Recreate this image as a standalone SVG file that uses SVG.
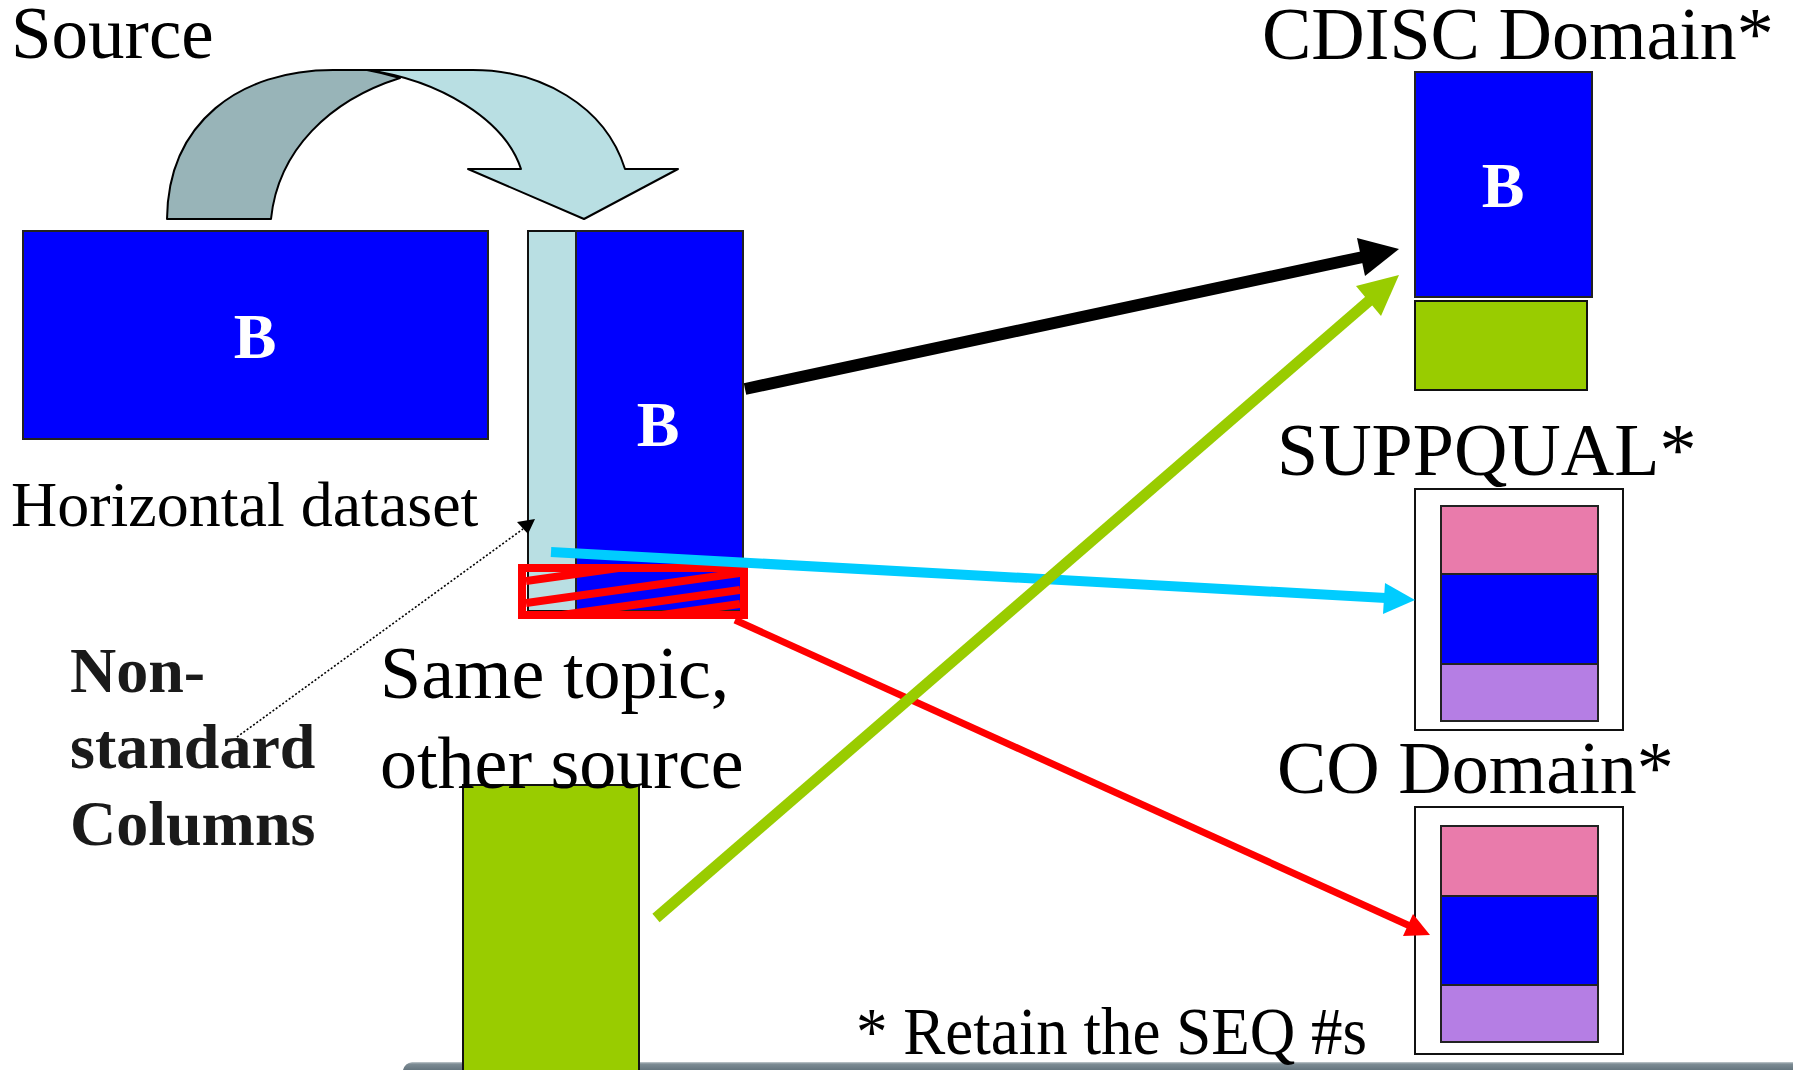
<svg xmlns="http://www.w3.org/2000/svg" width="1793" height="1070" viewBox="0 0 1793 1070">
  <style>
    .serif { font-family: "Liberation Serif", "Times New Roman", serif; }
    .big { font-size: 74px; fill: #000; }
    .mid { font-size: 64px; fill: #000; }
    .bold { font-size: 64px; font-weight: bold; fill: #1a1a1a; }
    .blabel { font-size: 64px; font-weight: bold; fill: #fff; text-anchor: middle; }
    .blue { fill: #0000ff; stroke: #222; stroke-width: 2; }
    .green { fill: #99cc00; stroke: #111; stroke-width: 2; }
    .pink { fill: #e97bab; stroke: #222; stroke-width: 2; }
    .violet { fill: #b57ee4; stroke: #222; stroke-width: 2; }
    .frame { fill: #fff; stroke: #111; stroke-width: 2; }
    .light { fill: #b9dfe3; stroke: #111; stroke-width: 2; }
  </style>
  <defs>
    <linearGradient id="barGrad" x1="0" y1="0" x2="0" y2="1">
      <stop offset="0" stop-color="#c4ccd0"/>
      <stop offset="0.25" stop-color="#7d8c94"/>
      <stop offset="1" stop-color="#66767f"/>
    </linearGradient>
    <clipPath id="hatchClip">
      <rect x="526" y="572" width="214" height="39"/>
    </clipPath>
  </defs>

  <rect width="1793" height="1070" fill="#fff"/>

  <!-- footer bar -->
  <path d="M412,1062 L1793,1062 L1793,1070 L403,1070 Q405,1063 412,1062 Z" fill="url(#barGrad)"/>

  <!-- curved transposition arrow -->
  <g id="curved-arrow" stroke="#000" stroke-width="2" stroke-linejoin="round">
    <path d="M367,70 L473,70 C540,70 605,105 625,169 L678,169 L584,219 L468,169 L521,169 C505,120 440,80 367,70 Z" fill="#b9dfe3"/>
    <path d="M167,219 C168,122 240,70 333,70 L367,70 C378,72 390,75 400,78 C330,100 278,150 271,219 Z" fill="#98b4b8"/>
  </g>

  <!-- horizontal dataset -->
  <g id="horizontal-dataset">
    <rect class="blue" x="23" y="231" width="465" height="208"/>
    <text class="serif blabel" x="255" y="358">B</text>
  </g>
  <text id="lbl-source" class="serif big" x="11" y="58" style="font-size:73px">Source</text>
  <text id="lbl-horizontal" class="serif mid" x="11" y="526">Horizontal dataset</text>

  <!-- vertical dataset with non-standard column strip -->
  <g id="vertical-dataset">
    <rect class="light" x="528" y="231" width="48" height="380"/>
    <rect class="blue" x="576" y="231" width="167" height="380"/>
    <text class="serif blabel" x="658" y="446">B</text>
  </g>

  <!-- hatched non-standard rows -->
  <g id="hatched-block">
    <g clip-path="url(#hatchClip)" stroke="#ff0000" stroke-width="8">
      <line x1="526" y1="581" x2="740" y2="551"/>
      <line x1="526" y1="603" x2="740" y2="573"/>
      <line x1="526" y1="620" x2="740" y2="590"/>
      <line x1="526" y1="634" x2="740" y2="604"/>
    </g>
    <rect x="522" y="568" width="222" height="47" fill="none" stroke="#ff0000" stroke-width="8"/>
  </g>

  <!-- labels in the middle -->
  <g id="lbl-nonstandard" class="serif bold">
    <text x="70" y="692">Non-</text>
    <text x="70" y="768">standard</text>
    <text x="70" y="845">Columns</text>
  </g>

  <!-- other source block -->
  <g id="other-source">
    <rect class="green" x="463" y="785" width="176" height="300"/>
  </g>
  <g id="lbl-same-topic" class="serif big">
    <text x="380" y="698">Same topic,</text>
    <text x="380" y="788">other source</text>
  </g>

  <!-- CDISC domain -->
  <g id="cdisc-domain">
    <rect class="blue" x="1415" y="72" width="177" height="225"/>
    <rect class="green" x="1415" y="301" width="172" height="89"/>
    <text class="serif blabel" x="1503" y="207">B</text>
  </g>
  <text id="lbl-cdisc" class="serif big" x="1262" y="59">CDISC Domain*</text>

  <!-- SUPPQUAL -->
  <g id="suppqual">
    <rect class="frame" x="1415" y="489" width="208" height="241"/>
    <rect class="pink" x="1441" y="506" width="157" height="68"/>
    <rect class="blue" x="1441" y="574" width="157" height="90"/>
    <rect class="violet" x="1441" y="664" width="157" height="57"/>
  </g>
  <text id="lbl-suppqual" class="serif big" x="1277" y="475">SUPPQUAL*</text>

  <!-- CO domain -->
  <g id="co-domain">
    <rect class="frame" x="1415" y="807" width="208" height="247"/>
    <rect class="pink" x="1441" y="826" width="157" height="70"/>
    <rect class="blue" x="1441" y="896" width="157" height="89"/>
    <rect class="violet" x="1441" y="985" width="157" height="57"/>
  </g>
  <text id="lbl-co" class="serif big" x="1277" y="793">CO Domain*</text>

  <text id="lbl-footnote" class="serif" x="856" y="1054" font-size="68" textLength="511" lengthAdjust="spacingAndGlyphs">* Retain the SEQ #s</text>

  <!-- connectors -->
  <g id="connectors">
    <!-- pointer to the extra columns -->
    <line x1="237" y1="737" x2="523" y2="529" stroke="#000" stroke-width="1.6" stroke-dasharray="2 2"/>
    <polygon points="517,522 535,519 528,534" fill="#000"/>

    <!-- black: main rows to CDISC domain -->
    <line x1="745" y1="389" x2="1363" y2="257" stroke="#000" stroke-width="12"/>
    <polygon points="1399,249 1357,238 1365,276" fill="#000"/>

    <!-- red: hatched rows to CO domain -->
    <line x1="735" y1="620" x2="1410" y2="926" stroke="#ff0000" stroke-width="7"/>
    <polygon points="1430,935 1413,914 1403,936" fill="#ff0000"/>

    <!-- cyan: extra columns to SUPPQUAL -->
    <line x1="551" y1="552" x2="1386" y2="598" stroke="#00ccff" stroke-width="10"/>
    <polygon points="1415,600 1385,583 1383,614" fill="#00ccff"/>

    <!-- green: other source to CDISC domain -->
    <line x1="656" y1="918" x2="1370" y2="300" stroke="#99cc00" stroke-width="11"/>
    <polygon points="1399,275 1356,286 1381,316" fill="#99cc00"/>
  </g>
</svg>
